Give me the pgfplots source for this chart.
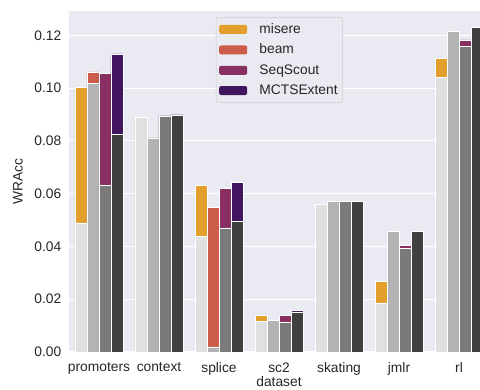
\documentclass[border=0pt]{standalone}
\usepackage{pgfplots}
\pgfplotsset{compat=1.18}
\usepackage{pgfplotstable}
\usepackage{fontspec}
\setmainfont{Liberation Sans}
\definecolor{bg}{HTML}{EAEAF2}
\definecolor{txt}{HTML}{262626}
\definecolor{cmis}{HTML}{E29F2B}
\definecolor{cbeam}{HTML}{CD5C4A}
\definecolor{cseq}{HTML}{8A2F61}
\definecolor{cmcts}{HTML}{41145F}
\definecolor{gmis}{HTML}{E0E0E0}
\definecolor{gbeam}{HTML}{B3B3B3}
\definecolor{gseq}{HTML}{7A7A7A}
\definecolor{gmcts}{HTML}{404040}
\definecolor{legdraw}{HTML}{CCCCCC}
\pgfplotstableread{
x mc mg bc bg sc sg xc xg
0 0.1004 0.0489 0.1061 0.1017 0.1057 0.0631 0.1130 0.0825
1 0.0888 0.0888 0.0811 0.0811 0.0895 0.0895 0.0898 0.0898
2 0.0631 0.0438 0.0547 0.0019 0.0621 0.0470 0.0642 0.0496
3 0.0139 0.0116 0.0120 0.0120 0.0138 0.0112 0.0159 0.0152
4 0.0559 0.0559 0.0571 0.0571 0.0571 0.0571 0.0571 0.0571
5 0.0268 0.0186 0.0456 0.0456 0.0403 0.0392 0.0456 0.0456
6 0.1113 0.1041 0.1216 0.1216 0.1183 0.1159 0.1229 0.1229
}\data
\begin{document}
\fontsize{13.8}{16}\selectfont
\begin{tikzpicture}
\path[use as bounding box] (-69pt,-38pt) rectangle (411pt,352pt);
\begin{axis}[
  scale only axis, width=411pt, height=341pt,
  xmin=-0.5, xmax=6.35, ymin=0, ymax=0.1292,
  axis background/.style={fill=bg},
  axis line style={draw=none},
  major tick length=0pt,
  ymajorgrids, grid style={white, line width=1.1pt},
  xtick={0,...,6},
  xticklabels={promoters,context,splice,sc2,skating,jmlr,rl},
  ytick={0,0.02,...,0.12},
  /pgf/number format/fixed, /pgf/number format/fixed zerofill, /pgf/number format/precision=2, /pgf/number format/assume math mode=true,
  ticklabel style={font=\fontsize{13.8}{16}\selectfont, text=txt},
  yticklabel style={xshift=-3pt},
  xticklabel style={yshift=-6pt},
  label style={font=\fontsize{13.8}{16}\selectfont, text=txt},
  xlabel={dataset}, ylabel={WRAcc},
  xlabel style={at={(axis cs:3,0)}, anchor=center, yshift=-30pt},
  ylabel style={at={(axis description cs:-0.124,0.5)}, anchor=center},
  ybar, bar width=0.2,
  every axis plot/.append style={draw=white, line width=0.5pt},
  legend style={at={(rel axis cs:0.512,0.982)}, anchor=north, fill=bg, draw=legdraw, rounded corners=2pt, font=\fontsize{13.8}{16}\selectfont, text=txt, inner xsep=3pt, inner ysep=4pt, row sep=4.5pt},
  legend cell align=left,
  legend image code/.code={\fill[#1, draw=none] (0pt,-4.5pt) rectangle (28pt,4.5pt); \path (38pt,0pt);},
]
\addplot[fill=cmis, bar shift=-0.3] table[x=x,y=mc]{\data};
\addlegendentry{misere}
\addplot[fill=cbeam, bar shift=-0.1] table[x=x,y=bc]{\data};
\addlegendentry{beam}
\addplot[fill=cseq, bar shift=0.1] table[x=x,y=sc]{\data};
\addlegendentry{SeqScout}
\addplot[fill=cmcts, bar shift=0.3] table[x=x,y=xc]{\data};
\addlegendentry{MCTSExtent}
\addplot[fill=gmis, bar shift=-0.3, forget plot] table[x=x,y=mg]{\data};
\addplot[fill=gbeam, bar shift=-0.1, forget plot] table[x=x,y=bg]{\data};
\addplot[fill=gseq, bar shift=0.1, forget plot] table[x=x,y=sg]{\data};
\addplot[fill=gmcts, bar shift=0.3, forget plot] table[x=x,y=xg]{\data};
\end{axis}
\end{tikzpicture}
\end{document}
